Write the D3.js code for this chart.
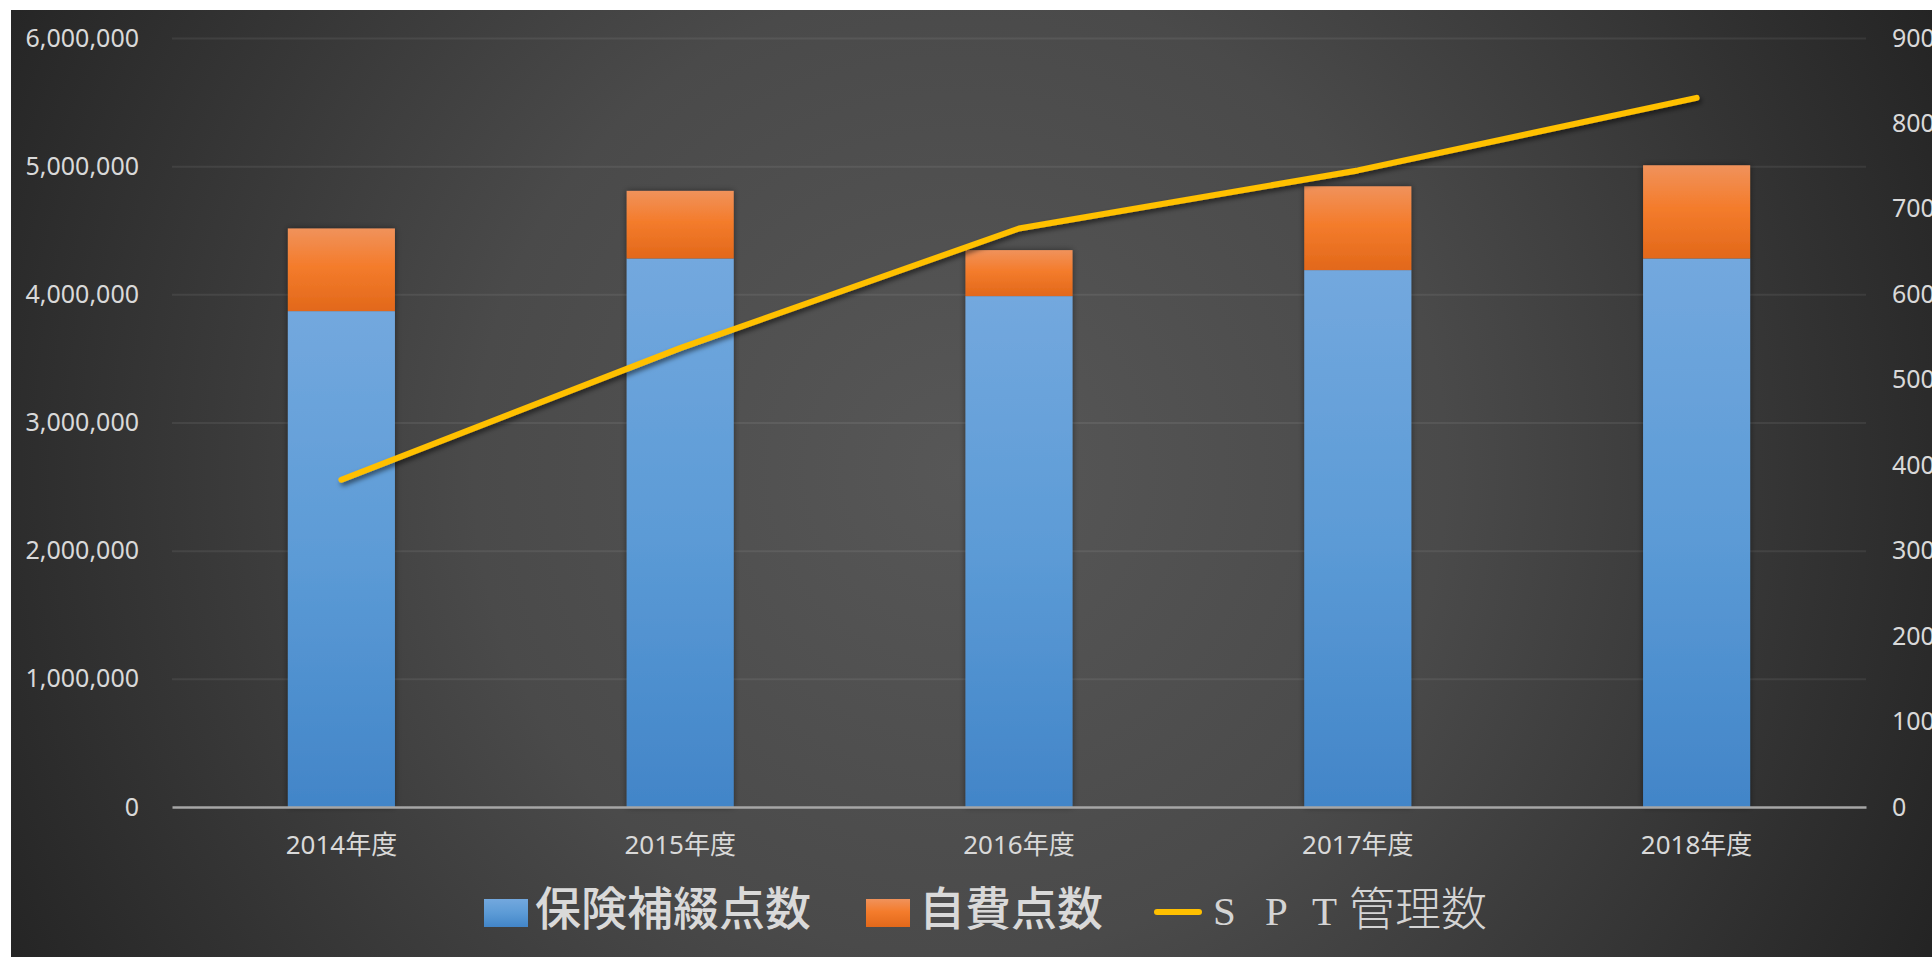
<!DOCTYPE html>
<html>
<head>
<meta charset="utf-8">
<script src="https://cdn.jsdelivr.net/npm/d3@7"></script>
<style>
  html, body { margin: 0; padding: 0; background: #ffffff; }
  svg { display: block; }
</style>
</head>
<body>
<svg id="chart" width="1932" height="957"></svg>
<script>
// 年度ごとの点数（保険補綴・自費）と SPT 管理数
const categories = ["2014年度", "2015年度", "2016年度", "2017年度", "2018年度"];
const hokenPoints = [3869000, 4280000, 3986000, 4189000, 4280000];
const jihiPoints  = [645000, 527000, 359000, 654000, 727000];
const sptCounts   = [383, 537, 677, 745, 830];
const leftTicks  = [0, 1000000, 2000000, 3000000, 4000000, 5000000, 6000000];
const rightTicks = [0, 100, 200, 300, 400, 500, 600, 700, 800, 900];
const seriesNames = ["保険補綴点数", "自費点数"];
const lineName = ["S", "P", "T", "管理数"];

const svg = d3.select("#chart");
const W = 1932, H = 957;
const frame = { x: 11, y: 10 };
const plot = { left: 172, right: 1866, top: 38, bottom: 807 };

const defs = svg.append("defs");

// background: radial shading, light centre to dark edges
const bg = defs.append("radialGradient")
  .attr("id", "bgGrad")
  .attr("gradientUnits", "userSpaceOnUse")
  .attr("cx", 960).attr("cy", 470).attr("r", 1080);
bg.append("stop").attr("offset", 0).attr("stop-color", "#575757");
bg.append("stop").attr("offset", 0.45).attr("stop-color", "#4a4a4a");
bg.append("stop").attr("offset", 1).attr("stop-color", "#242424");

function vGrad(id, stops) {
  const g = defs.append("linearGradient").attr("id", id)
    .attr("x1", 0).attr("y1", 0).attr("x2", 0).attr("y2", 1);
  stops.forEach(([o, c]) => g.append("stop").attr("offset", o).attr("stop-color", c));
}
vGrad("blueGrad", [[0, "#73a8de"], [0.5, "#5c9bd6"], [1, "#4285c8"]]);
vGrad("orangeGrad", [[0, "#f0925b"], [0.45, "#f47c2c"], [1, "#e2681a"]]);

const barShadow = defs.append("filter").attr("id", "barShadow")
  .attr("x", "-20%").attr("y", "-20%").attr("width", "140%").attr("height", "140%");
barShadow.append("feDropShadow").attr("dx", 0).attr("dy", 0)
  .attr("stdDeviation", 3).attr("flood-color", "#000").attr("flood-opacity", 0.45);

const lineShadow = defs.append("filter").attr("id", "lineShadow")
  .attr("x", "-10%").attr("y", "-20%").attr("width", "120%").attr("height", "140%");
lineShadow.append("feDropShadow").attr("dx", 2).attr("dy", 3)
  .attr("stdDeviation", 2.5).attr("flood-color", "#000").attr("flood-opacity", 0.55);

svg.append("rect")
  .attr("x", frame.x).attr("y", frame.y)
  .attr("width", W - frame.x).attr("height", H - frame.y)
  .attr("fill", "url(#bgGrad)");

// scales
const x = d3.scaleBand().domain(categories)
  .range([plot.left, plot.right])
  .paddingInner(0.684).paddingOuter(0.342);
const yL = d3.scaleLinear().domain([0, 6000000]).range([plot.bottom, plot.top]);
const yR = d3.scaleLinear().domain([0, 900]).range([plot.bottom, plot.top]);

const textColor = "#d9d9d9";
const axisFont = "'Noto Sans', 'Open Sans', sans-serif";

// gridlines
const grid = svg.append("g")
  .attr("transform", `translate(${plot.left},0)`)
  .call(d3.axisLeft(yL).tickValues(leftTicks.slice(1)).tickSize(-(plot.right - plot.left)).tickFormat(""));
grid.select(".domain").remove();
grid.selectAll("line").attr("stroke", "#ffffff").attr("stroke-opacity", 0.07).attr("stroke-width", 2);

// left axis labels
const gL = svg.append("g")
  .attr("transform", `translate(${plot.left},0)`)
  .call(d3.axisLeft(yL).tickValues(leftTicks).tickSize(0).tickPadding(33).tickFormat(d3.format(",")));
gL.select(".domain").remove();
gL.selectAll("text").attr("fill", textColor).attr("font-size", 25).attr("font-family", axisFont);

// right axis labels
const gR = svg.append("g")
  .attr("transform", `translate(${plot.right},0)`)
  .call(d3.axisRight(yR).tickValues(rightTicks).tickSize(0).tickPadding(26).tickFormat(d3.format("d")));
gR.select(".domain").remove();
gR.selectAll("text").attr("fill", textColor).attr("font-size", 25).attr("font-family", axisFont);

// stacked bars
const stackData = categories.map((c, i) => ({ cat: c, hoken: hokenPoints[i], jihi: jihiPoints[i] }));
const stacked = d3.stack().keys(["hoken", "jihi"])(stackData);
const fills = { hoken: "url(#blueGrad)", jihi: "url(#orangeGrad)" };

const barsG = svg.append("g").attr("filter", "url(#barShadow)");
stacked.forEach(layer => {
  barsG.append("g").selectAll("rect")
    .data(layer)
    .join("rect")
    .attr("x", d => x(d.data.cat))
    .attr("width", x.bandwidth())
    .attr("y", d => yL(d[1]))
    .attr("height", d => yL(d[0]) - yL(d[1]))
    .attr("fill", fills[layer.key]);
});

// category axis with zero line
const gX = svg.append("g")
  .attr("transform", `translate(0,${plot.bottom})`)
  .call(d3.axisBottom(x).tickSize(0).tickPadding(29));
gX.select(".domain").attr("stroke", "#a6a6a6").attr("stroke-width", 2.5);
gX.selectAll("text").attr("fill", textColor).attr("font-size", 26)
  .attr("font-family", "'Noto Sans', 'Noto Sans CJK JP', sans-serif");

// SPT line
const line = d3.line()
  .x((d, i) => x(categories[i]) + x.bandwidth() / 2)
  .y(d => yR(d));
svg.append("path")
  .datum(sptCounts)
  .attr("d", line)
  .attr("fill", "none")
  .attr("stroke", "#ffc000")
  .attr("stroke-width", 6)
  .attr("stroke-linecap", "round")
  .attr("stroke-linejoin", "round")
  .attr("filter", "url(#lineShadow)");

// legend
const leg = svg.append("g");
const baseY = 925, legFont = 46;
const cjk = "'Noto Sans CJK JP', sans-serif";

leg.append("rect").attr("x", 484).attr("y", 899).attr("width", 44).attr("height", 28).attr("fill", "url(#blueGrad)");
leg.append("text")
  .attr("x", 535).attr("y", baseY)
  .attr("font-family", cjk).attr("font-size", legFont).attr("font-weight", 500)
  .attr("fill", textColor).text(seriesNames[0]);

leg.append("rect").attr("x", 866).attr("y", 899).attr("width", 44).attr("height", 28).attr("fill", "url(#orangeGrad)");
leg.append("text")
  .attr("x", 919).attr("y", baseY)
  .attr("font-family", cjk).attr("font-size", legFont).attr("font-weight", 500)
  .attr("fill", textColor).text(seriesNames[1]);

leg.append("line").attr("x1", 1157).attr("x2", 1199).attr("y1", 912).attr("y2", 912)
  .attr("stroke", "#ffc000").attr("stroke-width", 6).attr("stroke-linecap", "round");

// wide-spaced S P T in a thin serif face, then 管理数
const sptText = leg.append("text").attr("y", baseY).attr("fill", "#d4d4d4");
const pieces = [
  { t: lineName[0], ax: 1213, font: "'Liberation Serif', serif", size: 41, w: 400 },
  { t: lineName[1], ax: 1265, font: "'Liberation Serif', serif", size: 41, w: 400 },
  { t: lineName[2], ax: 1312, font: "'Liberation Serif', serif", size: 41, w: 400 },
  { t: lineName[3], ax: 1349, font: cjk, size: legFont, w: 300 }
];
pieces.forEach(p => {
  sptText.append("tspan")
    .attr("x", p.ax)
    .attr("font-family", p.font)
    .attr("font-size", p.size)
    .attr("font-weight", p.w)
    .text(p.t);
});
</script>
</body>
</html>
